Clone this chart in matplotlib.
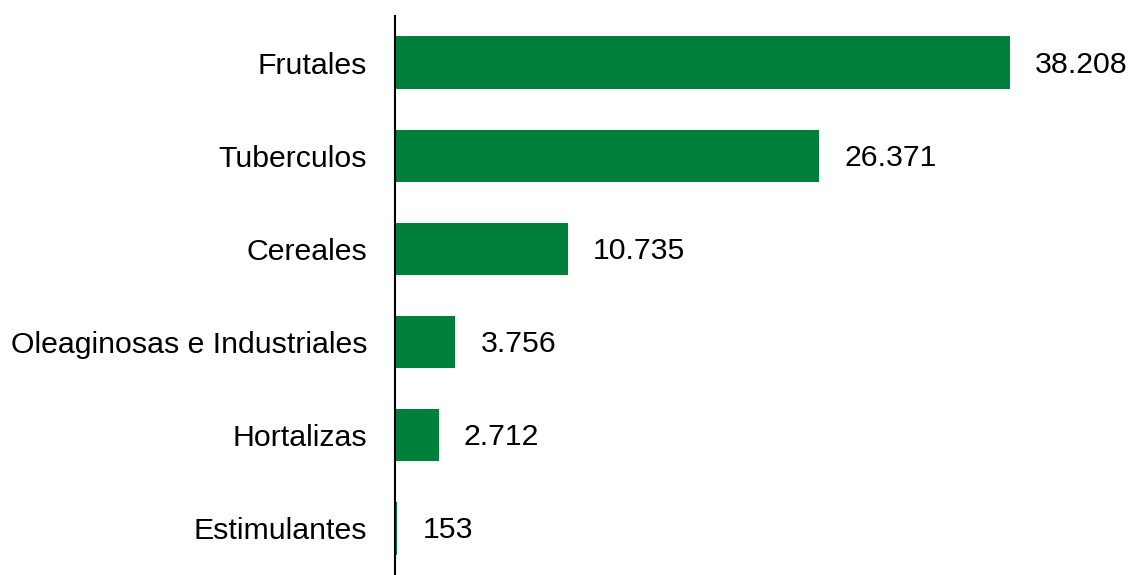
import matplotlib.pyplot as plt

categories = ['Frutales', 'Tuberculos', 'Cereales', 'Oleaginosas e Industriales',
              'Hortalizas', 'Estimulantes']
values = [38208, 26371, 10735, 3756, 2712, 153]
value_labels = ['38.208', '26.371', '10.735', '3.756', '2.712', '153']

plt.rcParams['font.family'] = ['Liberation Sans', 'DejaVu Sans']

fig = plt.figure(figsize=(11.28, 5.75), dpi=100)
ax = fig.add_axes([395 / 1128, 0.0, 733 / 1128, 1 - 16 / 575])

y = list(range(len(categories)))
ax.barh(y, values, height=0.56, color='#00803A')
ax.set_ylim(len(categories) - 0.5, -0.5)
ax.set_xlim(0, 38208 * 733 / 615)

for yi, v, lab in zip(y, values, value_labels):
    ax.annotate(lab, (v, yi), xytext=(25, -2), textcoords='offset pixels',
                va='center', ha='left', fontsize=21.8, color='black')

ax.set_yticks(y)
ax.set_yticklabels(categories, fontsize=21.8)
ax.tick_params(axis='y', length=0, pad=20)
ax.set_xticks([])
for s in ['top', 'right', 'bottom']:
    ax.spines[s].set_visible(False)
ax.spines['left'].set_linewidth(1.5)

fig.savefig('out.png', dpi=100)
